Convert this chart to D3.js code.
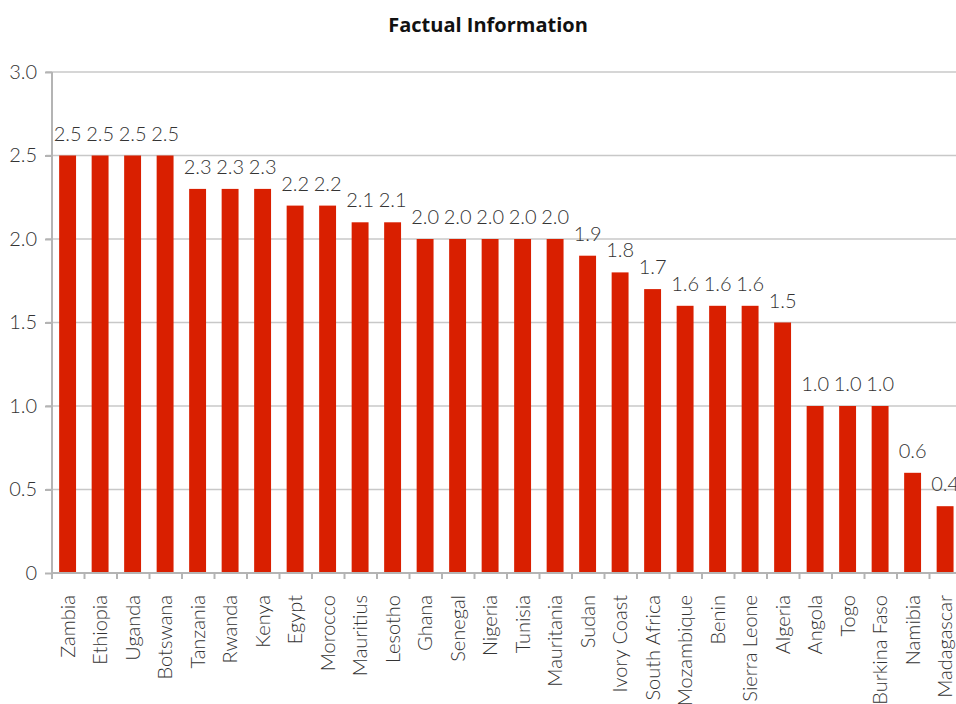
<!DOCTYPE html>
<meta charset="utf-8">
<style>
body { margin: 0; background: #fff; }
.bar { fill: #d91f00; }
.grid line { stroke: #c8c8c8; stroke-width: 1.5; }
.axis text, .val { font-family: Lato, "Open Sans", sans-serif; font-weight: 300; font-size: 20px; fill: #333; }
.title { font-family: "Open Sans", sans-serif; font-weight: bold; font-size: 20px; fill: #111; }
</style>
<body>
<script src="https://d3js.org/d3.v7.min.js"></script>
<script>
// chart data
var countries = ["Zambia", "Ethiopia", "Uganda", "Botswana", "Tanzania", "Rwanda", "Kenya",
  "Egypt", "Morocco", "Mauritius", "Lesotho", "Ghana", "Senegal", "Nigeria", "Tunisia",
  "Mauritania", "Sudan", "Ivory Coast", "South Africa", "Mozambique", "Benin", "Sierra Leone",
  "Algeria", "Angola", "Togo", "Burkina Faso", "Namibia", "Madagascar"];
var scores = [2.5, 2.5, 2.5, 2.5, 2.3, 2.3, 2.3, 2.2, 2.2, 2.1, 2.1, 2.0, 2.0, 2.0, 2.0,
  2.0, 1.9, 1.8, 1.7, 1.6, 1.6, 1.6, 1.5, 1.0, 1.0, 1.0, 0.6, 0.4];
var yTicks = [0, 0.5, 1.0, 1.5, 2.0, 2.5, 3.0];

// set the dimensions and margins of the graph
// (plot runs a little past the right edge of the window, as in the original)
var margin = {top: 72, left: 52},
    width = 910,
    height = 573 - margin.top;

var band = d3.scaleBand().domain(countries).range([0, width]);
var step = band.step();
var y = d3.scaleLinear()
    .domain([0, 3])
    .range([height, 0]);

var svg = d3.select("body").append("svg")
    .attr("width", 956)
    .attr("height", 704);

svg.append("text")
    .attr("class", "title")
    .attr("x", 488)
    .attr("y", 32)
    .attr("text-anchor", "middle")
    .text("Factual Information");

var g = svg.append("g")
    .attr("transform", "translate(" + margin.left + "," + margin.top + ")");

// gridlines
g.append("g")
    .attr("class", "grid")
    .selectAll("line")
    .data(yTicks.filter(function(d) { return d > 0; }))
  .enter().append("line")
    .attr("x1", -6)
    .attr("x2", width)
    .attr("y1", function(d) { return y(d); })
    .attr("y2", function(d) { return y(d); });

// bars
g.selectAll(".bar")
    .data(scores)
  .enter().append("rect")
    .attr("class", "bar")
    .attr("x", function(d, i) { return band(countries[i]) + step * 0.22; })
    .attr("width", step * 0.52)
    .attr("y", function(d) { return y(d); })
    .attr("height", function(d) { return height - y(d); });

// value labels
g.selectAll(".val")
    .data(scores)
  .enter().append("text")
    .attr("class", "val")
    .attr("x", function(d, i) { return band(countries[i]) + step * 0.48; })
    .attr("y", function(d) { return y(d) - 15; })
    .attr("text-anchor", "middle")
    .text(function(d) { return d3.format(".1f")(d); });

// y axis
var yAxis = g.append("g")
    .attr("class", "axis")
    .call(d3.axisLeft(y).tickValues(yTicks).tickSize(7).tickPadding(8)
      .tickFormat(function(d) { return d === 0 ? "0" : d3.format(".1f")(d); }));
yAxis.selectAll("line, path").attr("stroke", "#b4b4b4").attr("stroke-width", 2);
yAxis.select("path").attr("d", "M0," + height + "V0");

// x axis
var xAxis = g.append("g")
    .attr("class", "axis")
    .attr("transform", "translate(0," + height + ")")
    .call(d3.axisBottom(band).tickSize(0).tickPadding(0));
xAxis.select("path").attr("stroke", "#b4b4b4").attr("stroke-width", 2)
    .attr("d", "M0,0H" + width);
xAxis.selectAll(".tick text")
    .style("text-anchor", "end")
    .attr("x", 0)
    .attr("y", 0)
    .attr("dy", "0.35em")
    .attr("transform", "translate(" + (-step * 0.02) + ",22) rotate(-90)");
// tick marks between categories
xAxis.selectAll(".sep")
    .data(countries)
  .enter().append("line")
    .attr("class", "sep")
    .attr("x1", function(d) { return band(d); })
    .attr("x2", function(d) { return band(d); })
    .attr("y1", 0)
    .attr("y2", 6)
    .attr("stroke", "#b4b4b4")
    .attr("stroke-width", 2);
</script>
</body>
